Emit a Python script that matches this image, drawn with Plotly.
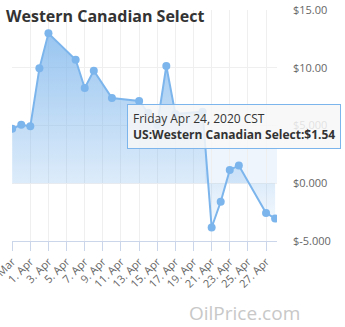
import plotly.graph_objects as go
from datetime import datetime, timedelta

# ---- data ----
dates = ["2020-03-30", "2020-03-31", "2020-04-01", "2020-04-02", "2020-04-03",
         "2020-04-06", "2020-04-07", "2020-04-08", "2020-04-10", "2020-04-13",
         "2020-04-14", "2020-04-15", "2020-04-16", "2020-04-17", "2020-04-20",
         "2020-04-21", "2020-04-22", "2020-04-23", "2020-04-24", "2020-04-27",
         "2020-04-28"]
prices = [4.72, 5.07, 4.93, 9.95, 12.98,
          10.70, 8.25, 9.75, 7.38, 7.12,
          6.10, 5.04, 10.15, 6.00, 6.20,
          -3.83, -1.60, 1.15, 1.54, -2.57,
          -3.05]
x_tick_vals = ["2020-03-30", "2020-04-01", "2020-04-03", "2020-04-05", "2020-04-07",
               "2020-04-09", "2020-04-11", "2020-04-13", "2020-04-15", "2020-04-17",
               "2020-04-19", "2020-04-21", "2020-04-23", "2020-04-25", "2020-04-27"]
x_tick_text = ["30. Mar", "1. Apr", "3. Apr", "5. Apr", "7. Apr", "9. Apr", "11. Apr",
               "13. Apr", "15. Apr", "17. Apr", "19. Apr", "21. Apr", "23. Apr",
               "25. Apr", "27. Apr"]
y_tick_vals = [-5, 0, 5, 10, 15]
y_tick_text = ["$-5.000", "$0.000", "$5.000", "$10.00", "$15.00"]

tip_date = "2020-04-24"
tip_value = 1.54

LINE = "#7cb5ec"
FONT = "Open Sans"

fig = go.Figure()
fig.add_trace(go.Scatter(
    x=dates, y=prices, mode="lines+markers",
    line=dict(color=LINE, width=2),
    marker=dict(color=LINE, size=8),
    fill="tozeroy",
    fillgradient=dict(type="vertical", start=-4, stop=13,
                      colorscale=[[0, "rgba(124,181,236,0.06)"],
                                  [0.235, "rgba(124,181,236,0.26)"],
                                  [1, "rgba(124,181,236,0.78)"]]),
    hoverinfo="skip", showlegend=False,
))

# light band behind the tooltip area (as seen in the reference)
fig.add_shape(type="rect", xref="x", yref="y",
              x0="2020-04-20 07:00", x1="2020-04-28 05:00", y0=0, y1=3,
              fillcolor="rgba(124,181,236,0.13)", line_width=0, layer="below")

# tooltip notch
td = datetime.strptime(tip_date, "%Y-%m-%d")
fig.add_shape(type="path", xref="x", yref="y",
              path="M {} {} L {} {} L {} {} Z".format(
                  (td - timedelta(hours=16)).strftime("%Y-%m-%d %H:%M"), tip_value + 1.5,
                  td.strftime("%Y-%m-%d %H:%M"), tip_value + 0.78,
                  (td + timedelta(hours=16)).strftime("%Y-%m-%d %H:%M"), tip_value + 1.5),
              fillcolor="rgba(247,247,247,0.95)", line=dict(color=LINE, width=1),
              layer="above")

fig.add_annotation(
    x=tip_date, y=tip_value, xref="x", yref="y",
    text="Friday Apr 24, 2020 CST<br><b>US:Western Canadian Select:$1.54</b>",
    showarrow=True, arrowcolor="rgba(0,0,0,0)", ax=-5, ay=-39,
    align="left", font=dict(family=FONT, size=12, color="#333333"),
    bgcolor="rgba(247,247,247,0.85)", bordercolor=LINE, borderwidth=1, borderpad=5,
)

fig.add_annotation(
    x=0.879, y=-0.312, xref="paper", yref="paper",
    xanchor="center", yanchor="middle",
    text="OilPrice.com", showarrow=False,
    font=dict(family=FONT, size=19, color="#c8c8c8"),
)

fig.update_layout(
    width=345, height=327, autosize=False,
    margin=dict(l=12, r=68, t=10, b=86),
    paper_bgcolor="white", plot_bgcolor="white",
    title=dict(text="<b>Western Canadian Select</b>", x=6/345, xanchor="left",
               y=1 - 16/327, yanchor="middle",
               font=dict(family=FONT, size=16, color="#333333")),
    xaxis=dict(type="date", range=["2020-03-29 23:30", "2020-04-28 05:00"],
               tickvals=x_tick_vals, ticktext=x_tick_text, tickangle=-45,
               ticks="outside", ticklen=9, tickcolor="#ccd6eb",
               ticklabeloverflow="allow",
               showline=True, linecolor="#ccd6eb", linewidth=1,
               showgrid=True, gridcolor="#efefef", zeroline=False,
               tickfont=dict(family=FONT, size=11, color="#666666"),
               automargin=False),
    yaxis=dict(side="right", range=[-5, 15], tickvals=y_tick_vals, ticktext=y_tick_text,
               showgrid=True, gridcolor="#efefef", zeroline=False, showline=False,
               ticks="", ticklabelstandoff=15,
               tickfont=dict(family=FONT, size=11, color="#666666"),
               automargin=False),
    font=dict(family=FONT),
)

fig.write_html("out.html")
